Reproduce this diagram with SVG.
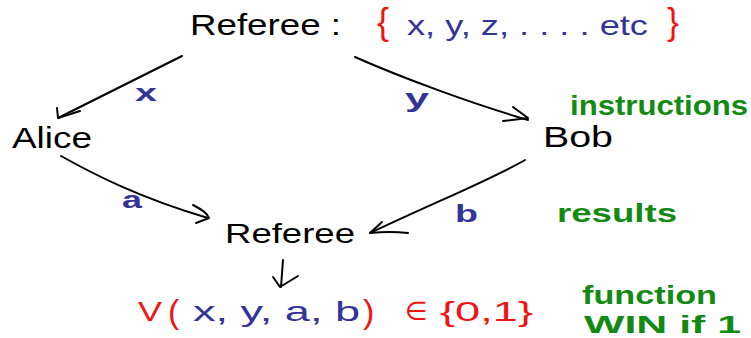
<svg xmlns="http://www.w3.org/2000/svg" width="751" height="338" viewBox="0 0 751 338">
<style>
text{font-family:"Liberation Sans","DejaVu Sans",sans-serif}
.k{fill:#000}
.b{fill:#333399}
.r{fill:#f01414}
.g{fill:#138a13;font-weight:bold}
.lbl{font-weight:bold}
.c{fill:none;stroke:#000;stroke-width:2;stroke-linecap:round;stroke-linejoin:round}
</style>
<rect width="751" height="338" fill="#fff"/>
<g id="connectors">
<path class="c" d="M182,56 C150,72 110,92 58,118"/>
<path class="c" d="M57,108 L58,118 L80,111"/>
<path class="c" d="M355,57 C400,77 470,103 528,120"/>
<path class="c" d="M513,107 L528,118 L503,121"/>
<path class="c" d="M61,156 C95,175 140,198 208,218"/>
<path class="c" d="M193,205 Q207,212 209,218 L196,223"/>
<path class="c" d="M525,160 C490,180 440,200 370,233"/>
<path class="c" d="M382,222 L370,233 Q390,231 408,233"/>
<path class="c" d="M283,260 L281,287"/>
<path class="c" d="M273,277 L280,287 L298,276"/>
</g>
<g id="referee-top">
<text class="k" x="190" y="35" font-size="30" textLength="151" lengthAdjust="spacingAndGlyphs">Referee :</text>
<text class="r" x="377" y="34" font-size="36">{</text>
<text class="b" x="407" y="35" font-size="28" textLength="241" lengthAdjust="spacingAndGlyphs">x, y, z, . . . . etc</text>
<text class="r" x="667" y="34" font-size="36">}</text>
</g>
<g id="alice">
<text class="k" x="12" y="148" font-size="30" textLength="80" lengthAdjust="spacingAndGlyphs">Alice</text>
</g>
<g id="bob">
<text class="k" x="543" y="147" font-size="30" textLength="70" lengthAdjust="spacingAndGlyphs">Bob</text>
</g>
<g id="referee-bottom">
<text class="k" x="225" y="243" font-size="28" textLength="130" lengthAdjust="spacingAndGlyphs">Referee</text>
</g>
<g id="labels">
<text class="b lbl" x="135" y="101" font-size="24" textLength="22" lengthAdjust="spacingAndGlyphs">x</text>
<text class="b lbl" x="405" y="107" font-size="26" textLength="24" lengthAdjust="spacingAndGlyphs">y</text>
<text class="b lbl" x="122" y="208" font-size="24" textLength="20" lengthAdjust="spacingAndGlyphs">a</text>
<text class="b lbl" x="455" y="222" font-size="24" textLength="23" lengthAdjust="spacingAndGlyphs">b</text>
</g>
<g id="notes">
<text class="g" x="570" y="115" font-size="28" textLength="178" lengthAdjust="spacingAndGlyphs">instructions</text>
<text class="g" x="557" y="222" font-size="26" textLength="120" lengthAdjust="spacingAndGlyphs">results</text>
<text class="g" x="582" y="304" font-size="26" textLength="135" lengthAdjust="spacingAndGlyphs">function</text>
<text class="g" x="584" y="333" font-size="24" textLength="157" lengthAdjust="spacingAndGlyphs">WIN if 1</text>
</g>
<g id="win-function">
<text class="r" x="138" y="321" font-size="28" textLength="24" lengthAdjust="spacingAndGlyphs">V</text>
<text class="r" x="168" y="323" font-size="34">(</text>
<text class="b" x="193" y="321" font-size="28" textLength="167" lengthAdjust="spacingAndGlyphs">x, y, a, b</text>
<text class="r" x="363" y="323" font-size="34">)</text>
<text class="r" x="405" y="320" font-size="26">∈</text>
<text class="r" x="440" y="321" font-size="28" textLength="93" lengthAdjust="spacingAndGlyphs">{0,1}</text>
</g>
</svg>
